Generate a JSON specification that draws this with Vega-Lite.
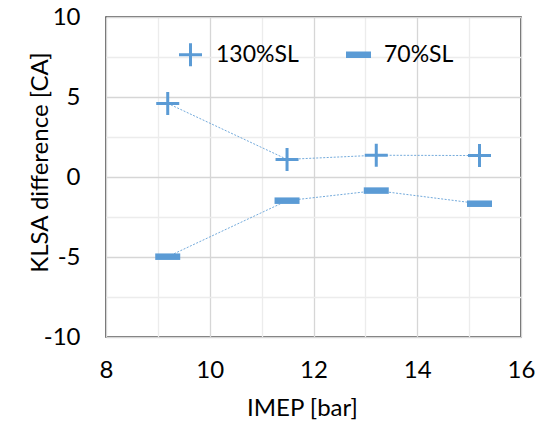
{
  "$schema": "https://vega.github.io/schema/vega-lite/v6.json",
  "width": 415,
  "height": 320,
  "autosize": "none",
  "padding": {"left": 106, "top": 17, "right": 20, "bottom": 85},
  "background": "white",
  "config": {
    "font": "Lato",
    "view": {"stroke": "#3a3a3a", "strokeWidth": 1.5}
  },
  "data": {
    "values": [
      {"imep": 9.19, "klsa": 4.6, "series": "130%SL"},
      {"imep": 11.49, "klsa": 1.1, "series": "130%SL"},
      {"imep": 13.21, "klsa": 1.36, "series": "130%SL"},
      {"imep": 15.2, "klsa": 1.34, "series": "130%SL"},
      {"imep": 9.19, "klsa": -4.98, "series": "70%SL"},
      {"imep": 11.49, "klsa": -1.48, "series": "70%SL"},
      {"imep": 13.21, "klsa": -0.85, "series": "70%SL"},
      {"imep": 15.2, "klsa": -1.67, "series": "70%SL"}
    ]
  },
  "encoding": {
    "x": {
      "field": "imep", "type": "quantitative",
      "scale": {"domain": [8, 16], "nice": false, "zero": false},
      "axis": {
        "title": "IMEP [bar]",
        "values": [8, 9, 10, 11, 12, 13, 14, 15, 16],
        "labelExpr": "datum.value % 2 == 0 ? toString(datum.value) : ''",
        "grid": true,
        "gridColor": {"condition": {"test": "datum.value % 2 == 0", "value": "#d6d6d6"}, "value": "#ececec"},
        "gridWidth": 1.3,
        "domain": false, "ticks": false,
        "labelFontSize": 24, "labelColor": "#000", "labelPadding": 21, "labelFlush": false,
        "titleFontSize": 24, "titleFontWeight": "normal", "titleColor": "#000",
        "titleBaseline": "alphabetic", "titleY": 78, "titleX": 196
      }
    },
    "y": {
      "field": "klsa", "type": "quantitative",
      "scale": {"domain": [-10, 10], "nice": false},
      "axis": {
        "title": "KLSA difference [CA]",
        "values": [-10, -7.5, -5, -2.5, 0, 2.5, 5, 7.5, 10],
        "labelExpr": "datum.value % 5 == 0 ? toString(datum.value) : ''",
        "grid": true,
        "gridColor": {"condition": {"test": "datum.value % 5 == 0", "value": "#d6d6d6"}, "value": "#ececec"},
        "gridWidth": 1.3,
        "domain": false, "ticks": false,
        "labelFontSize": 24, "labelColor": "#000", "labelPadding": 26, "labelFlush": false,
        "titleFontSize": 24, "titleFontWeight": "normal", "titleColor": "#000",
        "titleBaseline": "alphabetic", "titleX": -59, "titleY": 145, "titleAngle": -90
      }
    }
  },
  "layer": [
    {
      "mark": {"type": "line", "stroke": "#5B9BD5", "strokeWidth": 1, "strokeDash": [2, 1.5], "opacity": 0.85},
      "encoding": {"detail": {"field": "series"}}
    },
    {
      "mark": {"type": "point", "filled": true, "opacity": 1, "size": 625, "color": "#5B9BD5"},
      "encoding": {
        "shape": {
          "field": "series", "type": "nominal",
          "scale": {
            "domain": ["130%SL", "70%SL"],
            "range": ["M-0.92,-0.12H0.92V0.12H-0.92Z M-0.12,-0.92H0.12V0.92H-0.12Z", "M-1,-0.26H1V0.26H-1Z"]
          },
          "legend": {
            "title": null, "orient": "none", "direction": "horizontal",
            "legendX": 72, "legendY": 25, "padding": 0,
            "symbolSize": 625, "symbolFillColor": "#5B9BD5", "symbolStrokeWidth": 0, "symbolOpacity": 1,
            "labelFontSize": 23, "labelColor": "#000", "labelOffset": 13, "columnPadding": 47
          }
        }
      }
    }
  ]
}
